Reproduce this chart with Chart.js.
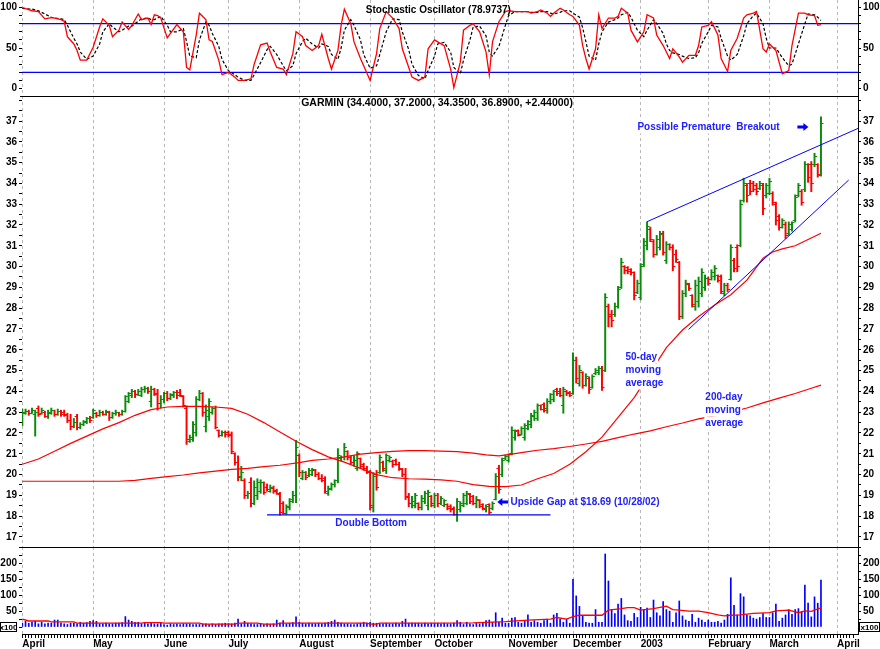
<!DOCTYPE html>
<html lang="en">
<head>
<meta charset="utf-8">
<title>Garmin daily chart, Apr 2002 - Mar 2003</title>
<script src="https://cdn.jsdelivr.net/npm/chart.js@4.4.1/dist/chart.umd.min.js"></script>
<style>
  html, body { margin: 0; background: #fff; }
  #wrap { position: relative; width: 880px; height: 649px; overflow: hidden; background: #fff; }
  #wrap canvas { position: absolute; left: 0; }
</style>
</head>
<body>
<div id="wrap">
  <canvas id="stoch" width="880" height="96" style="top:0"></canvas>
  <canvas id="price" width="880" height="451" style="top:96px"></canvas>
  <canvas id="volume" width="880" height="102" style="top:547px"></canvas>
</div>
<script>
// Colours / fonts
const GREEN = '#0a8c0a';
const RED = '#ff0000';
const BLUE = '#0000ff';
const NOTE_BLUE = '#2020ff';
const GRID_GREY = '#b8b8b8';
const FONT = '"Liberation Sans", Arial, sans-serif';

// Time axis: trading-day number, 0 = 1 Apr 2002
const monthDays = [0, 22, 44, 64, 86, 108, 128, 151, 171, 192, 213, 232, 253];
const monthLabels = ['April', 'May', 'June', 'July', 'August', 'September', 'October',
  'November', 'December', '2003', 'February', 'March', 'April'];
const DAY_MIN = -0.1;
const DAY_MAX = 259.5;
const LAST_TICK_DAY = 258;

// Daily bars, one entry per session (1 Apr 2002 .. 25 Mar 2003)
const highs = [
  23.15,23.15,23.1,23.2,23.1,23.3,23.2,23.05,23.1,23.2,23.1,23.15,23.1,23.1,22.95,22.9,22.7,22.9,22.5,22.6,22.75,22.8,
  23.15,23.0,23.1,23.05,23.1,23.05,23.0,23.1,23.0,23.1,23.8,23.95,24.1,24.05,24.1,24.2,24.25,24.2,24.25,24.15,24.1,23.8,
  23.95,24.0,23.9,24.0,24.05,24.1,23.8,23.3,21.9,22.55,23.75,24.05,23.95,23.35,23.65,23.25,23.3,22.15,22.1,22.1,
  22.1,22.05,21.05,20.9,20.4,19.8,19.2,19.85,19.7,19.8,19.75,19.65,19.55,19.5,19.45,19.3,19.15,18.7,18.55,18.85,19.2,21.65,
  21.0,20.2,20.15,20.3,20.3,20.25,20.1,20.0,19.9,19.45,19.6,19.75,21.25,20.9,21.5,21.15,20.9,20.9,21.1,20.8,20.55,20.4,
  20.2,20.1,20.2,20.95,20.65,21.0,20.9,20.7,20.75,20.6,20.3,20.3,19.1,18.95,19.1,18.65,19.0,19.2,19.25,19.0,
  19.1,19.1,18.95,18.8,18.6,18.55,18.45,18.85,18.7,19.1,19.2,19.1,19.0,18.95,18.8,18.6,18.55,18.6,18.69,20.05,20.45,20.8,20.95,
  21.0,22.3,22.15,22.15,22.3,22.45,22.6,22.95,23.1,23.4,23.35,23.45,23.65,23.9,24.05,24.15,24.15,24.2,24.05,24.0,
  25.85,25.65,25.25,24.95,24.85,24.7,24.8,25.1,25.2,25.2,28.7,28.2,27.9,28.25,29.05,30.4,30.05,30.0,29.9,29.75,29.35,
  30.15,31.35,32.15,31.9,31.3,31.5,31.7,31.7,31.2,31.1,31.05,30.8,30.25,28.85,29.35,29.2,28.65,29.35,29.5,29.9,29.6,
  29.5,29.85,30.05,29.6,29.6,29.2,29.2,31.05,30.4,31.05,33.2,34.25,34.0,34.15,34.1,34.0,34.1,34.0,34.0,
  34.25,33.6,33.1,32.5,32.3,32.15,32.15,32.15,33.45,34.0,33.7,35.05,34.95,35.05,35.45,34.95,37.2
];
const lows = [
  22.35,22.9,22.85,22.95,21.85,22.8,22.9,22.75,22.7,22.9,22.8,22.85,22.8,22.8,22.5,22.15,22.25,22.15,22.2,22.35,22.45,22.5,
  22.7,22.75,22.8,22.85,22.85,22.6,22.7,22.85,22.8,22.85,23.0,23.45,23.7,23.7,23.8,23.75,23.95,23.9,23.25,23.8,23.1,23.2,
  23.45,23.55,23.6,23.7,23.65,23.75,23.25,21.45,21.55,21.6,21.85,23.55,22.8,22.05,22.6,22.9,22.2,21.8,21.85,21.8,
  21.8,21.0,20.45,19.7,19.7,18.85,18.85,18.45,18.55,18.8,19.1,19.05,19.2,19.15,19.1,19.05,18.05,18.1,18.1,18.3,18.65,18.65,
  19.9,19.75,19.75,19.9,19.95,19.9,19.75,19.65,19.1,19.0,19.25,19.4,19.6,20.65,20.7,20.7,20.5,20.4,20.2,20.3,20.2,20.05,
  18.3,18.2,19.25,20.05,20.15,20.05,20.6,20.35,20.45,20.2,19.9,18.8,18.45,18.4,18.4,18.3,18.3,18.6,18.3,18.45,
  18.4,18.45,18.55,18.45,18.3,18.2,18.05,17.75,18.2,18.45,18.55,18.6,18.55,18.4,18.4,18.3,18.2,18.1,18.3,18.78,19.1,19.9,20.7,
  20.6,20.95,21.65,21.85,21.9,21.65,22.15,22.25,22.6,22.6,23.1,23.0,22.95,23.4,23.5,23.8,23.75,22.95,23.8,23.75,
  23.85,24.4,24.25,24.15,24.25,23.9,24.15,24.8,24.8,24.05,24.95,27.1,27.1,27.6,28.0,28.95,29.65,29.65,29.6,28.4,28.7,
  28.4,30.0,30.8,31.2,30.45,30.55,30.8,30.55,30.15,30.8,29.8,30.2,27.45,27.5,28.55,28.85,28.05,27.9,28.05,28.55,28.85,
  29.1,29.35,29.35,29.25,28.7,28.6,28.8,29.35,29.75,29.75,30.95,33.1,33.1,33.45,33.6,33.45,33.7,32.5,33.3,
  33.45,32.95,32.0,31.75,31.85,31.35,31.5,31.7,32.15,33.35,32.95,33.6,34.05,33.6,34.8,34.3,34.35
];
const opens = [
  22.4,22.95,23.05,22.95,22.9,23.2,22.95,23.0,22.8,22.95,23.1,22.9,23.05,23.0,22.9,22.6,22.3,22.8,22.25,22.4,22.5,22.7,
  22.75,22.95,22.85,23.0,22.9,23.0,22.75,22.95,23.0,22.9,23.05,23.5,23.8,24.0,23.85,23.8,24.1,24.15,23.5,24.1,23.9,23.4,
  23.6,23.9,23.65,23.8,23.95,23.95,23.75,23.2,21.6,21.7,22.0,23.6,23.9,22.3,22.8,23.0,23.2,22.1,21.9,22.0,
  22.0,21.95,21.0,20.6,19.9,19.7,19.0,19.6,18.6,19.0,19.2,19.6,19.4,19.2,19.35,19.25,19.05,18.6,18.15,18.4,18.8,19.0,
  20.9,19.8,20.1,19.95,20.0,20.2,20.0,19.8,19.8,19.1,19.3,19.5,19.7,20.75,20.8,21.1,20.8,20.6,20.3,20.75,20.5,20.3,
  20.1,18.4,20.0,20.1,20.6,20.2,20.7,20.65,20.7,20.5,20.25,20.0,18.9,18.6,18.5,18.6,18.4,18.7,18.5,18.95,
  18.5,19.0,18.6,18.5,18.55,18.45,18.35,18.1,18.3,18.5,18.6,19.05,18.95,18.6,18.75,18.55,18.3,18.55,18.35,18.8,20.3,20.0,20.75,
  20.7,21.0,21.8,22.1,21.95,21.8,22.2,22.4,22.8,22.7,23.3,23.35,23.2,23.5,23.6,24.1,24.0,23.3,24.0,23.95,
  23.9,25.5,24.4,24.9,24.3,24.6,24.2,24.85,24.9,25.1,25.0,28.1,27.7,27.7,28.1,29.0,30.0,29.95,29.85,29.7,28.75,
  28.5,30.1,31.0,31.8,31.2,30.6,30.9,31.6,30.3,31.05,30.9,30.6,30.2,27.6,28.7,29.15,28.6,28.1,28.3,28.7,29.0,
  29.45,29.4,29.5,29.55,29.5,28.7,29.1,29.4,30.3,30.9,31.0,33.2,33.9,34.0,34.0,33.9,33.75,33.9,33.4,
  33.5,33.5,33.0,32.4,31.9,32.0,31.6,31.8,32.2,33.4,33.6,33.7,34.9,34.9,34.9,34.9,34.4
];
const closes = [
  23.0,23.05,22.95,23.1,23.0,22.9,23.1,22.8,23.0,23.1,22.9,23.05,22.9,22.85,22.6,22.3,22.5,22.25,22.4,22.55,22.7,22.6,
  23.1,22.85,23.0,22.9,23.05,22.75,22.95,23.0,22.9,23.05,23.75,23.9,24.0,23.85,24.0,24.1,24.15,24.0,24.1,23.85,23.4,23.6,
  23.9,23.65,23.85,23.95,23.8,23.8,23.3,21.7,21.8,22.4,23.6,23.9,23.0,23.1,23.5,23.2,22.25,21.9,22.0,21.95,
  21.9,21.1,20.6,19.85,20.1,19.0,19.1,18.6,19.4,19.6,19.6,19.15,19.3,19.4,19.2,19.1,18.2,18.15,18.45,18.7,19.0,21.3,
  20.1,20.1,19.85,20.2,20.25,20.0,19.8,19.7,19.2,19.35,19.5,19.7,20.9,20.8,21.3,20.8,20.6,20.7,21.0,20.4,20.3,20.1,
  18.5,19.9,19.4,20.8,20.3,20.9,20.8,20.5,20.5,20.3,20.0,18.95,18.6,18.7,19.0,18.4,18.85,19.1,19.15,18.6,
  19.0,18.6,18.85,18.75,18.35,18.3,18.1,18.7,18.6,19.0,19.1,18.7,18.6,18.8,18.45,18.35,18.45,18.2,18.6,19.9,19.3,20.7,20.85,
  20.95,22.1,22.05,21.9,22.2,22.35,22.55,22.85,23.0,23.3,23.15,23.1,23.5,23.85,24.0,23.9,23.8,24.1,23.9,23.8,
  25.5,24.6,25.0,24.3,24.7,24.1,24.7,25.0,25.1,24.2,28.5,27.6,27.4,28.1,28.9,30.2,29.8,29.75,29.7,28.6,29.2,
  30.0,31.2,31.95,31.3,30.6,31.3,31.55,30.7,31.05,30.9,30.0,30.35,27.6,28.7,29.2,28.95,28.2,29.1,29.3,29.7,29.45,
  29.2,29.7,29.9,29.35,28.8,29.1,28.9,30.9,29.9,30.0,33.0,34.0,33.4,33.6,33.7,33.6,34.0,32.8,33.9,
  34.1,33.1,32.2,31.9,32.2,31.5,32.0,32.1,33.3,33.9,33.1,34.9,34.3,34.0,35.3,34.45,36.89
];
// volume (x100 shares per tick unit)
const volumes = [
  12,18,12,15,18,10,15,10,12,12,22,22,12,10,8,12,12,10,15,12,14,18,
  20,18,10,10,12,10,10,12,12,14,33,22,18,15,15,10,12,10,12,10,10,12,
  8,6,10,8,9,8,10,10,10,8,8,8,10,10,8,10,8,10,10,12,
  11,10,12,25,10,18,12,10,8,8,10,8,10,9,10,22,12,20,10,12,14,32,
  15,12,10,12,10,10,12,10,12,15,18,22,15,12,10,10,8,8,10,12,15,12,
  15,12,12,10,10,12,10,10,12,10,18,25,12,12,12,12,10,12,10,12,
  12,12,10,12,10,10,12,20,15,8,15,10,8,12,10,15,20,22,15,45,15,28,12,
  12,28,30,15,12,20,38,15,20,15,12,20,25,12,38,43,25,15,25,12,
  150,98,65,35,15,12,12,55,15,15,230,145,55,42,72,90,38,20,18,43,30,
  62,55,60,30,85,45,35,80,55,50,15,45,82,35,22,18,40,15,28,22,15,
  22,15,15,18,12,22,40,155,68,38,105,95,38,35,28,25,30,42,30,
  30,45,72,18,28,38,55,40,55,58,48,132,75,32,95,75,148
];

// moving averages at sample days
const ma50Days = [0,5,10,15,20,25,30,35,40,45,50,55,60,65,70,75,80,85,90,95,100,105,110,115,120,125,130,135,140,145,
  150,155,160,165,170,175,180,185,190,195,200,205,210,215,220,225,230,233,236,240,244,248];
const ma50 = [20.5,20.75,21.12,21.5,21.85,22.2,22.5,22.85,23.12,23.25,23.28,23.28,23.25,23.18,22.9,22.5,22.05,21.6,21.2,20.85,
  20.6,20.3,20.0,19.85,19.8,19.78,19.75,19.68,19.52,19.43,19.42,19.5,19.8,20.05,20.5,21.1,21.8,22.75,23.7,24.9,
  26.1,26.95,27.6,28.15,28.65,29.35,30.4,30.7,30.85,31.0,31.3,31.6];
const ma200Days = [0,30,35,40,45,50,55,60,65,70,75,80,86,90,95,100,105,110,115,120,125,130,135,140,144,148,152,156,160,165,
  170,175,180,185,190,195,200,205,210,215,220,225,230,235,240,245,248];
const ma200 = [19.68,19.68,19.72,19.82,19.9,19.98,20.08,20.17,20.25,20.3,20.38,20.45,20.58,20.68,20.75,20.85,20.98,21.06,21.12,21.15,
  21.15,21.13,21.1,21.03,20.95,20.9,20.98,21.08,21.17,21.25,21.35,21.47,21.6,21.78,21.95,22.1,22.3,22.48,22.68,22.82,
  23.0,23.2,23.45,23.68,23.9,24.15,24.3];
const volMaDays = [0,2,8,9,16,17,37,38,43,44,55,56,66,67,73,75,79,80,107,108,110,111,129,140,150,157,164,166,169,171,
  173,180,182,186,188,190,192,196,200,202,204,207,210,213,216,218,220,223,227,232,234,238,241,243,245,248];
const volMa = [25,19,19,16,16,12,12,14,14,12,12,9,9,12,12,9,9,12,12,9,9,12,12,13,17,22,25,30,25,33,
  37,37,53,58,61,61,53,58,66,55,53,50,50,45,38,35,37,38,43,45,51,53,45,51,49,60];

// stochastic oscillator %K (red) and %D (dashed)
const stochDays = [0,3,5,7,9,10,12,13,14,16,17,18,20,22,24,25,27,28,30,31,33,34,36,37,39,40,41,42,43,45,
  46,48,50,51,52,54,55,57,58,59,61,62,64,66,67,69,71,72,74,76,77,79,81,82,84,85,87,88,90,92,
  93,95,96,98,99,100,102,103,105,106,108,110,111,113,115,117,118,120,121,123,125,126,128,129,131,133,134,136,137,139,
  140,142,144,145,146,148,150,151,153,155,157,158,160,161,163,164,165,167,168,170,171,173,174,175,176,178,179,180,182,184,
  185,186,188,189,191,193,194,196,197,199,200,201,202,204,205,207,209,210,211,213,214,216,217,219,220,222,224,225,227,228,
  230,231,232,234,236,238,239,241,243,244,246,247,248];
const stochK = [100,96,95,86,87.5,87,85,83,64,55,47,35,35,51,76,86,78,64,72,82,73,78,92,85,87,79,91,90,87,62.5,
  68,79,70,26,23,66,93,85,60,58,35,17,20,14,10,10,12,30,54,56,45,26,24,17,43,70,64,53,47,53,
  67,37,24,47,78,98,80,57.5,37,28,10,43,74,95,87,74,49,26,14,10,14,49,60,57.5,53,24,1,32.5,72,78,
  80,70,45,17,57.5,82.5,95,96,95,95,95,93,95,97,93,89,93,99,97,91,89,78,53,37,24,49,91,74,87,87,
  89,99,93,72,57.5,70,91,87,66,53,45,37,49,39,32.5,41,41,53,76,78,82.5,66,37,21,47,62,87,91,93,95,
  49,45,55,47,18,22,53,93,93,91,90,78,79];
const stochD = [99,98,96,92,88,87,86,85,78,62,55,45,36,40,55,70,80,76,70,72,77,77,83,86,87,85,85,87,89,78,
  70,70,74,58,40,38,60,82,78,68,52,36,22,17,14,10,10,17,32,48,52,42,28,22,28,43,58,62,55,50,
  55,52,42,36,50,72,85,78,60,42,25,28,42,70,86,85,70,48,30,16,12,22,40,55,57,45,26,18,35,60,
  76,77,65,45,40,52,78,90,95,95,95,94,94,95,95,93,92,94,96,96,93,88,75,58,40,35,55,70,82,85,
  87,91,94,88,72,64,72,85,80,68,55,47,44,42,40,37,38,44,56,70,78,76,62,40,35,42,65,80,90,93,
  80,62,50,50,38,28,30,55,80,92,91,88,84];
const stochLevels = [80, 20];

// hand-drawn trend lines (day, price)
const doubleBottomDays = [76, 164];
const doubleBottomPrice = [18.06, 18.06];
const upperWedgeDays = [194, 259.6];
const upperWedgePrice = [32.16, 36.65];
const lowerWedgeDays = [206.9, 256.6];
const lowerWedgePrice = [26.98, 34.16];

// axis ticks
const stochTicks = [0,10,20,30,40,50,60,70,80,90,100];
const stochLabels = [0, 50, 100];
const priceTicks = [17,17.5,18,18.5,19,19.5,20,20.5,21,21.5,22,22.5,23,23.5,24,24.5,25,25.5,26,26.5,27,27.5,
  28,28.5,29,29.5,30,30.5,31,31.5,32,32.5,33,33.5,34,34.5,35,35.5,36,36.5,37,37.5,38];
const priceLabels = [17,18,19,20,21,22,23,24,25,26,27,28,29,30,31,32,33,34,35,36,37];
const volTicks = [0,25,50,75,100,125,150,175,200,225,250];
const volLabels = [50, 100, 150, 200];

const stochTitleText = 'Stochastic Oscillator (78.9737)';
const priceTitleText = 'GARMIN (34.4000, 37.2000, 34.3500, 36.8900, +2.44000)';
const notes = [
  { lines: ['Possible Premature  Breakout'], day: 191, price: 36.71 },
  { lines: ['50-day', 'moving', 'average'], day: 187.3, price: 25.65 },
  { lines: ['200-day', 'moving', 'average'], day: 212.1, price: 23.73 },
  { lines: ['Upside Gap at $18.69 (10/28/02)'], day: 151.6, price: 18.68 },
  { lines: ['Double Bottom'], day: 97.2, price: 17.67 }
];
const arrows = [
  { day: 244.1, price: 36.71, dir: 'right' },
  { day: 147.5, price: 18.68, dir: 'left' }
];

const pairs = (xs, ys) => xs.map((d, i) => ({ x: d, y: ys[i] }));
const tickFont = { family: FONT, size: 10, weight: 'bold' };
const tradingDays = Array.from({ length: LAST_TICK_DAY + 1 }, (_, i) => i);

function dayAxis(withLabels) {
  return {
    type: 'linear',
    min: DAY_MIN,
    max: DAY_MAX,
    offset: false,
    afterBuildTicks: s => { s.ticks = (withLabels ? tradingDays : monthDays).map(v => ({ value: v })); },
    afterFit: s => { s.height = withLabels ? 15 : 0; s.paddingLeft = 0; s.paddingRight = 0; },
    grid: {
      offset: false,
      color: c => (c.tick && monthDays.includes(c.tick.value)) ? GRID_GREY : 'rgba(0,0,0,0)',
      lineWidth: 1,
      drawTicks: withLabels,
      tickLength: 4,
      tickColor: '#000',
      tickWidth: 1
    },
    border: { display: withLabels, color: '#000', width: 1, dash: [3, 3] },
    ticks: {
      display: withLabels,
      autoSkip: false,
      maxRotation: 0,
      minRotation: 0,
      align: 'start',
      padding: 0,
      color: '#000',
      font: tickFont,
      callback: v => { const k = monthDays.indexOf(v); return k < 0 ? '' : monthLabels[k]; }
    }
  };
}

function valueAxis(pos, min, max, tickVals, labelled) {
  return {
    type: 'linear',
    position: pos,
    min: min,
    max: max,
    afterBuildTicks: s => { s.ticks = tickVals.map(v => ({ value: v })); },
    afterFit: s => { s.width = 22; s.paddingTop = 0; s.paddingBottom = 0; },
    grid: { drawOnChartArea: false, drawTicks: true, tickLength: 3, tickColor: '#000', tickWidth: 1 },
    border: { display: pos === 'right', color: '#000', width: 1 },
    ticks: {
      autoSkip: false,
      padding: 2,
      color: '#000',
      font: tickFont,
      callback: v => labelled.includes(v) ? String(v) : ''
    }
  };
}

const common = {
  responsive: false,
  animation: false,
  events: [],
  layout: { padding: 0, autoPadding: false },
  plugins: { legend: { display: false }, tooltip: { enabled: false } }
};

// open / close tick images for the OHLC bars
function tickImage(color, side) {
  const c = document.createElement('canvas');
  c.width = 7;
  c.height = 1;
  const g = c.getContext('2d');
  g.fillStyle = color;
  g.fillRect(side === 'open' ? 1 : 3, 0, 3, 1);
  return c;
}
const OPEN_UP = tickImage(GREEN, 'open'), OPEN_DN = tickImage(RED, 'open');
const CLOSE_UP = tickImage(GREEN, 'close'), CLOSE_DN = tickImage(RED, 'close');
const isUp = closes.map((c, i) => c >= opens[i]);

function drawArrow(ctx, tip, y, dir) {
  const s = dir === 'left' ? 1 : -1;
  ctx.beginPath();
  ctx.moveTo(tip, y);
  ctx.lineTo(tip + s * 5, y - 4);
  ctx.lineTo(tip + s * 5, y - 1.5);
  ctx.lineTo(tip + s * 11, y - 1.5);
  ctx.lineTo(tip + s * 11, y + 1.5);
  ctx.lineTo(tip + s * 5, y + 1.5);
  ctx.lineTo(tip + s * 5, y + 4);
  ctx.closePath();
  ctx.fill();
}

const stochTitle = {
  id: 'stochTitle',
  afterDatasetsDraw(chart) {
    const { ctx, scales: { x, y } } = chart;
    ctx.save();
    ctx.font = `bold 10px ${FONT}`;
    ctx.fillStyle = '#000';
    ctx.textAlign = 'center';
    ctx.textBaseline = 'middle';
    ctx.fillText(stochTitleText, x.getPixelForValue(129.2), y.getPixelForValue(97));
    ctx.restore();
  }
};

const priceNotes = {
  id: 'priceNotes',
  afterDatasetsDraw(chart) {
    const { ctx, chartArea: area, scales: { x, y } } = chart;
    ctx.save();
    ctx.fillStyle = '#000';
    ctx.fillRect(area.left - 2, area.top, area.right - area.left + 2, 1);
    ctx.textAlign = 'left';
    ctx.textBaseline = 'middle';
    ctx.font = `bold 10.5px ${FONT}`;
    ctx.fillText(priceTitleText, x.getPixelForValue(86.6), y.getPixelForValue(37.87));
    ctx.font = `bold 10px ${FONT}`;
    notes.forEach(n => {
      const left = x.getPixelForValue(n.day);
      const top = y.getPixelForValue(n.price);
      ctx.fillStyle = '#fff';
      n.lines.forEach((t, k) => ctx.fillRect(left - 1, top + k * 13 - 6.5, ctx.measureText(t).width + 2, 13));
      ctx.fillStyle = NOTE_BLUE;
      n.lines.forEach((t, k) => ctx.fillText(t, left, top + k * 13));
    });
    ctx.fillStyle = BLUE;
    arrows.forEach(a => drawArrow(ctx, x.getPixelForValue(a.day), y.getPixelForValue(a.price), a.dir));
    ctx.restore();
  }
};

const volumeExtras = {
  id: 'volumeExtras',
  afterDraw(chart) {
    const { ctx, chartArea: area, scales: { y } } = chart;
    const zero = Math.round(y.getPixelForValue(0));
    ctx.save();
    ctx.fillStyle = '#000';
    ctx.fillRect(area.left - 2, area.top, area.right - area.left + 2, 1);
    ctx.font = `bold 8px ${FONT}`;
    ctx.textAlign = 'center';
    ctx.textBaseline = 'middle';
    [[0.5, 16], [area.right + 1.5, 20]].forEach(([bx, w]) => {
      ctx.fillStyle = '#fff';
      ctx.fillRect(bx, zero - 5, w, 10);
      ctx.strokeStyle = '#000';
      ctx.lineWidth = 1;
      ctx.strokeRect(bx, zero - 4.5, w, 9);
      ctx.fillStyle = '#000';
      ctx.fillText('x100', bx + w / 2, zero + 0.5);
    });
    ctx.restore();
  }
};

new Chart(document.getElementById('stoch'), {
  type: 'line',
  data: {
    datasets: [
      { data: pairs(stochDays, stochK), borderColor: RED, borderWidth: 1.3 },
      { data: pairs(stochDays, stochD), borderColor: '#000', borderWidth: 1.2, borderDash: [3, 2] },
      ...stochLevels.map(v => ({ data: [{ x: DAY_MIN, y: v }, { x: DAY_MAX, y: v }], borderColor: BLUE, borderWidth: 1.3 }))
    ]
  },
  options: {
    ...common,
    elements: { point: { radius: 0 }, line: { tension: 0 } },
    scales: {
      x: dayAxis(false),
      y: valueAxis('left', -9.26, 109.26, stochTicks, stochLabels),
      yR: valueAxis('right', -9.26, 109.26, stochTicks, stochLabels)
    }
  },
  plugins: [stochTitle]
});

new Chart(document.getElementById('price'), {
  type: 'bar',
  data: {
    datasets: [
      { type: 'line', data: pairs(upperWedgeDays, upperWedgePrice), borderColor: BLUE, borderWidth: 1, pointRadius: 0 },
      { type: 'line', data: pairs(lowerWedgeDays, lowerWedgePrice), borderColor: BLUE, borderWidth: 1, pointRadius: 0 },
      { type: 'line', data: pairs(doubleBottomDays, doubleBottomPrice), borderColor: BLUE, borderWidth: 1.3, pointRadius: 0 },
      { type: 'line', data: pairs(ma50Days, ma50), borderColor: RED, borderWidth: 1.2, pointRadius: 0, tension: 0 },
      { type: 'line', data: pairs(ma200Days, ma200), borderColor: RED, borderWidth: 1.2, pointRadius: 0, tension: 0 },
      {
        type: 'line', showLine: false, pointRadius: 3,
        data: closes.map((c, i) => ({ x: i, y: c })),
        pointStyle: isUp.map(u => u ? CLOSE_UP : CLOSE_DN)
      },
      {
        type: 'line', showLine: false, pointRadius: 3,
        data: opens.map((o, i) => ({ x: i, y: o })),
        pointStyle: isUp.map(u => u ? OPEN_UP : OPEN_DN)
      },
      {
        type: 'bar',
        data: highs.map((h, i) => ({ x: i, y: [lows[i], h] })),
        backgroundColor: isUp.map(u => u ? GREEN : RED),
        borderWidth: 0,
        barThickness: 1.3
      }
    ]
  },
  options: {
    ...common,
    scales: {
      x: dayAxis(false),
      y: valueAxis('left', 16.519, 38.202, priceTicks, priceLabels),
      yR: valueAxis('right', 16.519, 38.202, priceTicks, priceLabels)
    }
  },
  plugins: [priceNotes]
});

new Chart(document.getElementById('volume'), {
  type: 'bar',
  data: {
    datasets: [
      { type: 'line', data: pairs(volMaDays, volMa), borderColor: RED, borderWidth: 1.3, pointRadius: 0, tension: 0 },
      {
        type: 'bar',
        data: volumes.map((v, i) => ({ x: i, y: v })),
        backgroundColor: BLUE,
        borderWidth: 0,
        barThickness: 1
      }
    ]
  },
  options: {
    ...common,
    scales: {
      x: dayAxis(true),
      y: valueAxis('left', -22, 252, volTicks, volLabels),
      yR: valueAxis('right', -22, 252, volTicks, volLabels)
    }
  },
  plugins: [volumeExtras]
});
</script>
</body>
</html>
